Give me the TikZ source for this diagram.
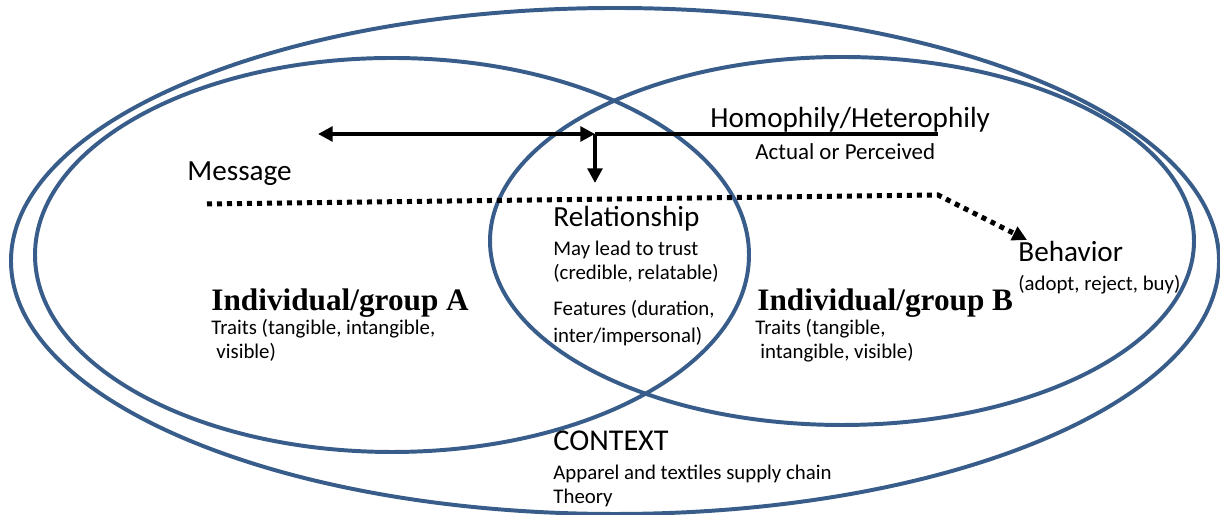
\documentclass[tikz,border=0pt]{standalone}
\usepackage{fontspec}
\setmainfont{Carlito}
\newfontfamily\timesbf{Liberation Serif}
\usetikzlibrary{arrows.meta}
\definecolor{ringblue}{RGB}{56,93,138}

\begin{document}
\begin{tikzpicture}[x=.48pt,y=.48pt,line cap=butt,line join=miter,
    >={Triangle[length=7pt,width=7pt]},
    ring/.style={draw=ringblue,line width=1.9pt},
    lbl/.style={anchor=base west,inner sep=0pt,font=\fontsize{14}{17}\selectfont},
    sub/.style={anchor=base west,inner sep=0pt,font=\fontsize{10}{12}\selectfont},
    grp/.style={anchor=base west,inner sep=0pt,font=\fontsize{15}{18}\timesbf\bfseries},
    link/.style={line width=1.9pt},
    msg/.style={line width=2.4pt,dash pattern=on 2.4pt off 2.4pt}]
  \useasboundingbox (0,0) rectangle (1220,515);
  % context and the two parties
  \draw[ring] (615,254) ellipse [x radius=604,y radius=253];
  \draw[ring] (392,260) ellipse [x radius=357,y radius=197];
  \draw[ring] (842,274) ellipse [x radius=352,y radius=184];
  % homophily arrows
  \coordinate (homend) at (938,381);
  \coordinate (toA) at (318,381);
  \coordinate (join) at (595,381);
  \coordinate (toRel) at (595,332);
  \draw[link,<->] (toA) -- (join);
  \draw[link] (join) -- (homend);
  \draw[link,->] (join) -- (toRel);
  % message path
  \coordinate (msgstart) at (207,311);
  \coordinate (bend) at (938,320);
  \coordinate (toBeh) at (1027,275);
  \draw[msg,->] (msgstart) -- (bend) -- (toBeh);
  % labels
  \node[lbl] (msgtxt) at (187,334) {Message};
  \node[lbl] (homo) at (710,387) {Homophily/Heterophily};
  \node[sub,font=\fontsize{11}{13}\selectfont] (perc) at (755,355) {Actual or Perceived};
  \node[lbl] (rel) at (553,288) {Relationship};
  \node[sub] (trust) at (553,259) {May lead to trust};
  \node[sub] (cred) at (553,235) {(credible, relatable)};
  \node[sub] (feat) at (553,199) {Features (duration,};
  \node[sub] (inter) at (553,172) {inter/impersonal)};
  \node[grp] (grpA) at (211,204) {Individual/group A};
  \node[sub] (trA) at (211,180) {Traits (tangible, intangible,};
  \node[sub] (visA) at (216,156) {visible)};
  \node[grp] (grpB) at (757,204) {Individual/group B};
  \node[sub] (trB) at (755,180) {Traits (tangible,};
  \node[sub] (visB) at (760,156) {intangible, visible)};
  \node[lbl] (beh) at (1018,253) {Behavior};
  \node[sub] (adopt) at (1018,224) {(adopt, reject, buy)};
  \node[lbl,font=\fontsize{14.5}{17}\selectfont] (ctx) at (553,64) {CONTEXT};
  \node[sub] (chain) at (553,35) {Apparel and textiles supply chain};
  \node[sub] (theo) at (553,11) {Theory};
\end{tikzpicture}
\end{document}
